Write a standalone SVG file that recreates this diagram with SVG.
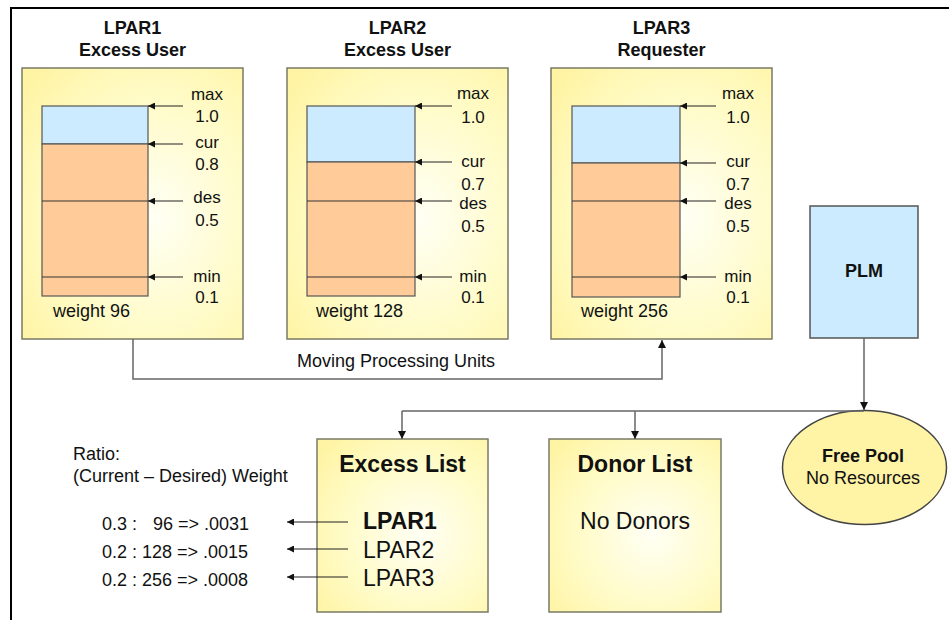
<svg xmlns="http://www.w3.org/2000/svg" width="949" height="620" viewBox="0 0 949 620">
  <style>
    text { font-family: "Liberation Sans", Arial, sans-serif; fill: #111; }
    .t { font-size: 18px; }
    .s { font-size: 17px; }
    .b { font-size: 18px; font-weight: bold; }
    .h { font-size: 23px; font-weight: bold; }
    .big { font-size: 23px; }
    .m { text-anchor: middle; }
    .panel { fill: url(#glow); stroke: #7a7a66; stroke-width: 1.5; }
    .free { fill: #ccebff; stroke: #555; stroke-width: 1.2; }
    .used { fill: #ffcc99; stroke: #555; stroke-width: 1.2; }
    .mark { stroke: #333; stroke-width: 1.2; }
    .tick { stroke: #222; stroke-width: 1.2; fill: none; marker-end: url(#small); }
    .conn { stroke: #666; stroke-width: 1.5; fill: none; }
    .conn.arr { marker-end: url(#head); }
  </style>
  <defs>
    <radialGradient id="glow" cx="0.6" cy="0.55" r="0.75">
      <stop offset="0" stop-color="#fffff4"/>
      <stop offset="0.6" stop-color="#fffbc6"/>
      <stop offset="1" stop-color="#fff4a4"/>
    </radialGradient>
    <marker id="small" viewBox="0 0 10 10" refX="10" refY="5" markerWidth="8" markerHeight="7" markerUnits="userSpaceOnUse" orient="auto">
      <path d="M0,0 L10,5 L0,10 z" fill="#111"/>
    </marker>
    <marker id="head" viewBox="0 0 10 10" refX="10" refY="5" markerWidth="9" markerHeight="8" markerUnits="userSpaceOnUse" orient="auto">
      <path d="M0,0 L10,5 L0,10 z" fill="#111"/>
    </marker>
  </defs>

  <rect width="949" height="620" fill="#fff"/>
  <!-- frame edges -->
  <path d="M11,620 V8 H949" fill="none" stroke="#000" stroke-width="2"/>

  <!-- LPAR1 -->
  <g id="lpar1">
    <text class="b m" x="132.5" y="34">LPAR1</text>
    <text class="b m" x="132.5" y="56">Excess User</text>
    <rect class="panel" x="22" y="68" width="221" height="271"/>
    <rect class="free" x="42" y="106" width="106" height="38"/>
    <rect class="used" x="42" y="144" width="106" height="152"/>
    <line class="mark" x1="42" y1="201" x2="148" y2="201"/>
    <line class="mark" x1="42" y1="277" x2="148" y2="277"/>
    <line class="tick" x1="183" y1="106" x2="148" y2="106"/>
    <line class="tick" x1="183" y1="144" x2="148" y2="144"/>
    <line class="tick" x1="183" y1="201" x2="148" y2="201"/>
    <line class="tick" x1="183" y1="277" x2="148" y2="277"/>
    <text class="s m" x="207" y="100">max</text>
    <text class="s m" x="207" y="122">1.0</text>
    <text class="s m" x="207" y="148">cur</text>
    <text class="s m" x="207" y="170">0.8</text>
    <text class="s m" x="207" y="203">des</text>
    <text class="s m" x="207" y="226">0.5</text>
    <text class="s m" x="207" y="282">min</text>
    <text class="s m" x="207" y="303">0.1</text>
    <text class="t" x="53" y="317">weight 96</text>
  </g>

  <!-- LPAR2 -->
  <g id="lpar2">
    <text class="b m" x="397.5" y="34">LPAR2</text>
    <text class="b m" x="397.5" y="56">Excess User</text>
    <rect class="panel" x="287" y="68" width="221" height="271"/>
    <rect class="free" x="307" y="106" width="108" height="56"/>
    <rect class="used" x="307" y="162" width="108" height="134"/>
    <line class="mark" x1="307" y1="201" x2="415" y2="201"/>
    <line class="mark" x1="307" y1="277" x2="415" y2="277"/>
    <line class="tick" x1="452" y1="106" x2="415" y2="106"/>
    <line class="tick" x1="452" y1="162" x2="415" y2="162"/>
    <line class="tick" x1="452" y1="201" x2="415" y2="201"/>
    <line class="tick" x1="452" y1="277" x2="415" y2="277"/>
    <text class="s m" x="473" y="99">max</text>
    <text class="s m" x="473" y="123">1.0</text>
    <text class="s m" x="473" y="167">cur</text>
    <text class="s m" x="473" y="190">0.7</text>
    <text class="s m" x="473" y="209">des</text>
    <text class="s m" x="473" y="232">0.5</text>
    <text class="s m" x="473" y="282">min</text>
    <text class="s m" x="473" y="303">0.1</text>
    <text class="t" x="316" y="317">weight 128</text>
  </g>

  <!-- LPAR3 -->
  <g id="lpar3">
    <text class="b m" x="661.5" y="34">LPAR3</text>
    <text class="b m" x="661.5" y="56">Requester</text>
    <rect class="panel" x="551" y="68" width="221" height="271"/>
    <rect class="free" x="572" y="106" width="108" height="57"/>
    <rect class="used" x="572" y="163" width="108" height="134"/>
    <line class="mark" x1="572" y1="201" x2="680" y2="201"/>
    <line class="mark" x1="572" y1="277" x2="680" y2="277"/>
    <line class="tick" x1="716" y1="106" x2="680" y2="106"/>
    <line class="tick" x1="716" y1="163" x2="680" y2="163"/>
    <line class="tick" x1="716" y1="201" x2="680" y2="201"/>
    <line class="tick" x1="716" y1="277" x2="680" y2="277"/>
    <text class="s m" x="738" y="99">max</text>
    <text class="s m" x="738" y="123">1.0</text>
    <text class="s m" x="738" y="167">cur</text>
    <text class="s m" x="738" y="190">0.7</text>
    <text class="s m" x="738" y="209">des</text>
    <text class="s m" x="738" y="232">0.5</text>
    <text class="s m" x="738" y="282">min</text>
    <text class="s m" x="738" y="303">0.1</text>
    <text class="t" x="581" y="317">weight 256</text>
  </g>

  <!-- PLM -->
  <g id="plm">
    <rect x="810" y="206" width="108" height="132" fill="#ccebff" stroke="#555" stroke-width="1.5"/>
    <text class="b m" x="864" y="277">PLM</text>
  </g>

  <!-- Free pool -->
  <g id="free-pool">
    <ellipse cx="864.5" cy="467.5" rx="82" ry="57" fill="#fff3a6" stroke="#444" stroke-width="1.5"/>
    <text class="b m" x="863" y="462">Free Pool</text>
    <text class="t m" x="863" y="484">No Resources</text>
  </g>

  <!-- Excess list -->
  <g id="excess-list">
    <rect class="panel" x="317" y="439" width="171" height="173"/>
    <text class="h m" x="402.5" y="472">Excess List</text>
    <text class="big" x="363" y="529" font-weight="bold">LPAR1</text>
    <text class="big" x="363" y="558">LPAR2</text>
    <text class="big" x="363" y="586">LPAR3</text>
  </g>

  <!-- Donor list -->
  <g id="donor-list">
    <rect class="panel" x="549" y="439" width="172" height="173"/>
    <text class="h m" x="635" y="472">Donor List</text>
    <text class="big m" x="635" y="529">No Donors</text>
  </g>

  <!-- Ratio notes -->
  <g id="ratios">
    <text class="t" x="73" y="460">Ratio:</text>
    <text class="t" x="73" y="482">(Current – Desired) Weight</text>
    <text class="t" x="102" y="530">0.3 :<tspan x="153">96 =&gt; .0031</tspan></text>
    <text class="t" x="102" y="558">0.2 : 128 =&gt; .0015</text>
    <text class="t" x="102" y="586">0.2 : 256 =&gt; .0008</text>
  </g>

  <!-- connectors -->
  <g id="connectors">
    <path class="conn arr" d="M133,339 V379 H662 V340"/>
    <text class="t" x="297" y="367">Moving Processing Units</text>
    <path class="conn arr" d="M864,338 V410"/>
    <path class="conn" d="M864,411 H402"/>
    <path class="conn arr" d="M402,411 V439"/>
    <path class="conn arr" d="M635,411 V439"/>
    <line class="tick" x1="348" y1="522" x2="287" y2="522"/>
    <line class="tick" x1="348" y1="549" x2="287" y2="549"/>
    <line class="tick" x1="348" y1="577" x2="287" y2="577"/>
  </g>
</svg>
